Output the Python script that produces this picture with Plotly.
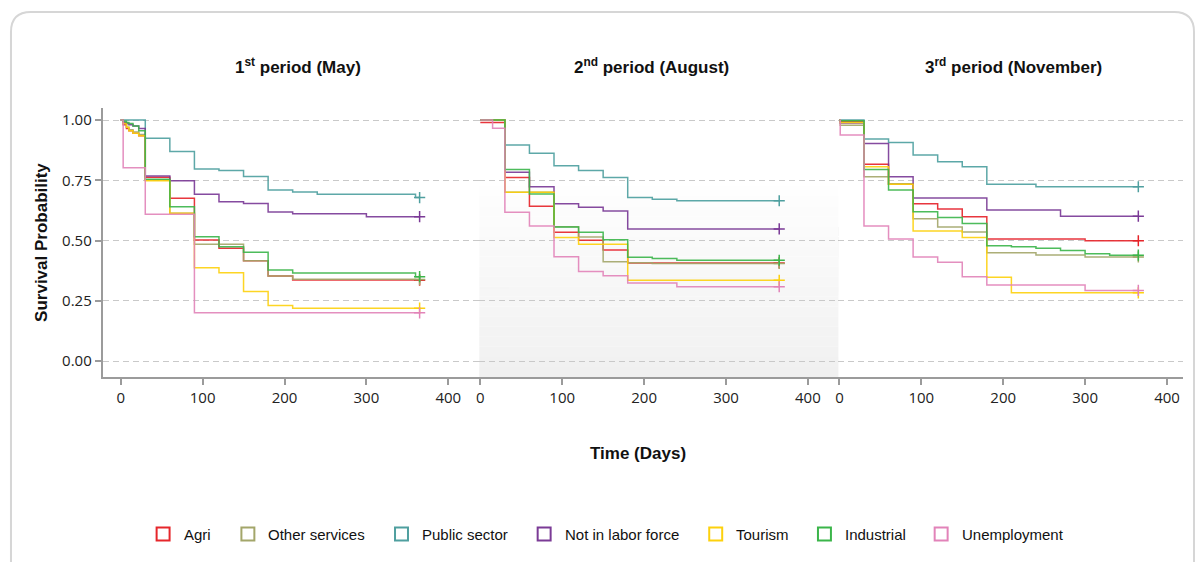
import plotly.graph_objects as go

W, H = 1202, 562

CATEGORIES = ["Agri", "Other services", "Public sector", "Not in labor force",
              "Tourism", "Industrial", "Unemployment"]
COLORS = ["#e6262b", "#a3a66a", "#4f9f9f", "#7b3b96", "#fdd10d", "#3bb54a", "#e283b9"]
PERIOD_TITLES = ["1<sup>st</sup> period (May)", "2<sup>nd</sup> period (August)",
                 "3<sup>rd</sup> period (November)"]
X_TICKS = [0, 100, 200, 300, 400]
Y_TICKS = [0, 0.25, 0.5, 0.75, 1.0]

# ---- 1st period (May) ----
MAY_DAYS = [0, 3, 7, 10, 15, 22, 30, 60, 90, 120, 150, 180, 210, 240, 270, 300, 330, 360, 365]
MAY_AGRI = [1, .980, .965, .955, .945, .935, .762, .675, .502, .468, .416, .353, .336, .336, .336, .336, .336, .335, .335]
MAY_OTHER = [1, .985, .970, .960, .950, .940, .751, .613, .484, .484, .416, .353, .339, .339, .339, .339, .339, .338, .338]
MAY_PUBLIC = [1, 1, 1, 1, 1, 1, .924, .869, .797, .790, .766, .710, .701, .692, .692, .692, .692, .678, .678]
MAY_NILF = [1, .990, .985, .980, .975, .965, .768, .748, .692, .661, .654, .618, .611, .611, .611, .599, .599, .599, .599]
MAY_TOUR = [1, .985, .970, .955, .945, .935, .748, .613, .387, .366, .288, .230, .219, .219, .219, .219, .219, .219, .219]
MAY_IND = [1, .995, .990, .985, .975, .955, .754, .640, .516, .474, .451, .378, .365, .365, .365, .365, .365, .350, .350]
MAY_UNEMP = [1, .802, .802, .802, .802, .802, .609, .609, .200, .200, .200, .200, .200, .200, .200, .200, .200, .200, .200]

# ---- 2nd period (August) ----
AUG_DAYS = [0, 15, 30, 60, 90, 120, 150, 180, 210, 240, 365]
AUG_AGRI = [.99, .99, .761, .642, .534, .501, .461, .407, .407, .407, .407]
AUG_OTHER = [1, 1, .700, .700, .557, .515, .412, .408, .405, .405, .405]
AUG_PUBLIC = [1, 1, .896, .862, .810, .790, .761, .678, .671, .665, .665]
AUG_NILF = [1, 1, .783, .723, .653, .638, .622, .548, .548, .548, .548]
AUG_TOUR = [1, 1, .700, .700, .512, .484, .484, .335, .335, .335, .335]
AUG_IND = [1, 1, .795, .693, .556, .534, .503, .430, .425, .418, .418]
AUG_UNEMP = [1, .966, .617, .560, .433, .371, .354, .324, .324, .308, .308]

# ---- 3rd period (November) ----
NOV_DAYS = [0, 1, 30, 60, 90, 120, 150, 180, 210, 240, 270, 300, 330, 365]
NOV_AGRI = [1, .995, .816, .733, .653, .631, .599, .506, .506, .506, .506, .499, .499, .499]
NOV_OTHER = [1, .978, .765, .735, .590, .556, .535, .449, .449, .440, .440, .432, .432, .432]
NOV_PUBLIC = [1, 1, .921, .907, .855, .827, .806, .733, .733, .723, .723, .723, .723, .723]
NOV_NILF = [1, .988, .903, .765, .676, .676, .676, .627, .627, .627, .601, .601, .601, .601]
NOV_TOUR = [1, .990, .806, .733, .539, .539, .512, .347, .283, .283, .283, .283, .283, .283]
NOV_IND = [1, .997, .795, .710, .619, .595, .571, .478, .474, .468, .459, .445, .439, .439]
NOV_UNEMP = [1, .938, .560, .506, .432, .410, .350, .315, .315, .315, .315, .293, .293, .293]

PANELS = [
    ("x", MAY_DAYS, [MAY_AGRI, MAY_OTHER, MAY_PUBLIC, MAY_NILF, MAY_TOUR, MAY_IND, MAY_UNEMP]),
    ("x2", AUG_DAYS, [AUG_AGRI, AUG_OTHER, AUG_PUBLIC, AUG_NILF, AUG_TOUR, AUG_IND, AUG_UNEMP]),
    ("x3", NOV_DAYS, [NOV_AGRI, NOV_OTHER, NOV_PUBLIC, NOV_NILF, NOV_TOUR, NOV_IND, NOV_UNEMP]),
]


def px(x):
    return x / W


def py(y):
    return 1 - y / H


fig = go.Figure()
for xa, days, series in PANELS:
    for name, color, surv in zip(CATEGORIES, COLORS, series):
        fig.add_trace(go.Scatter(
            x=days, y=surv, mode="lines", name=name, xaxis=xa, yaxis="y",
            line=dict(shape="hv", color=color, width=1.5), opacity=0.9,
            showlegend=False, hoverinfo="skip"))
        fig.add_trace(go.Scatter(
            x=[days[-1]], y=[surv[-1]], mode="markers", name=name, xaxis=xa, yaxis="y",
            marker=dict(symbol="cross-thin-open", size=8, color=color,
                        line=dict(color=color, width=1.5)),
            showlegend=False, hoverinfo="skip"))

# layout geometry (pixels)
Y_TOP, Y_BOT = 108, 377
Y0_PX, Y1_PX = 361, 120
PPU = (Y0_PX - Y1_PX)
y_range = [-(Y_BOT - Y0_PX) / PPU, 1 + (Y1_PX - Y_TOP) / PPU]
PXD = 0.821  # pixels per day
panel_px = [(100, 477.5, 118), (477.5, 837.5, 478.5), (837.5, 1183, 838.5)]

axis_common = dict(
    showline=True, linecolor="#9b9b9b", linewidth=2, showgrid=False, zeroline=False,
    ticks="outside", ticklen=6, tickwidth=2, tickcolor="#9b9b9b",
    tickvals=X_TICKS, ticktext=[str(v) for v in X_TICKS],
    tickfont=dict(family="Open Sans", size=15, color="#222222"),
    anchor="y", fixedrange=True,
)
layout_axes = {}
for i, (l, r, zero) in enumerate(panel_px):
    key = "xaxis" if i == 0 else f"xaxis{i+1}"
    layout_axes[key] = dict(axis_common, domain=[px(l), px(r)],
                            range=[(l - zero) / PXD, (r - zero) / PXD])

shapes = []
# subtle vertical gradient behind the middle panel (opaque, non-overlapping bands)
N = 20
G_TOP = 176
for k in range(N):
    y_a = G_TOP + k * (Y_BOT - G_TOP) / N
    y_b = G_TOP + (k + 1) * (Y_BOT - G_TOP) / N
    lvl = round(255 - 15 * (k + 0.5) / N)
    shapes.append(dict(type="rect", xref="paper", yref="paper", layer="below",
                       x0=px(477.5), x1=px(837.5), y0=py(y_b), y1=py(y_a),
                       line=dict(width=0), fillcolor=f"rgb({lvl},{lvl},{lvl})"))

# card border with rounded top corners
L, R, T, B, RAD = 8, 1194, 12, 575, 20
path = (f"M {px(L)},{py(B)} L {px(L)},{py(T+RAD)} Q {px(L)},{py(T)} {px(L+RAD)},{py(T)} "
        f"L {px(R-RAD)},{py(T)} Q {px(R)},{py(T)} {px(R)},{py(T+RAD)} L {px(R)},{py(B)}")
shapes.append(dict(type="path", xref="paper", yref="paper", path=path,
                   line=dict(color="#d6d6d6", width=2), layer="below"))

annotations = []
title_centers = [296, 650, 1013]
for t, cx in zip(PERIOD_TITLES, title_centers):
    annotations.append(dict(text=t, x=px(cx), y=py(66), xref="paper", yref="paper",
                            xanchor="center", yanchor="middle", showarrow=False,
                            font=dict(family="Liberation Sans", size=17, color="#111111",
                                      weight="bold")))
annotations.append(dict(text="Survival Probability", x=px(38), y=py(242), xref="paper",
                        yref="paper", textangle=-90, xanchor="center", yanchor="middle",
                        showarrow=False,
                        font=dict(family="Liberation Sans", size=17, color="#111111",
                                  weight="bold")))
annotations.append(dict(text="Time (Days)", x=px(637), y=py(453), xref="paper", yref="paper",
                        xanchor="center", yanchor="middle", showarrow=False,
                        font=dict(family="Liberation Sans", size=17, color="#111111",
                                  weight="bold")))

# manual legend
LEG_TEXT_X = [179, 264, 418, 561, 733, 842, 959]
LEG_Y = 534
for name, color, tx in zip(CATEGORIES, COLORS, LEG_TEXT_X):
    shapes.append(dict(type="rect", xref="paper", yref="paper",
                       x0=px(tx - 25), x1=px(tx - 12), y0=py(LEG_Y + 6.5), y1=py(LEG_Y - 6.5),
                       line=dict(color=color, width=2), fillcolor="rgba(0,0,0,0)"))
    annotations.append(dict(text=name, x=px(tx), y=py(LEG_Y), xref="paper", yref="paper",
                            xanchor="left", yanchor="middle", showarrow=False,
                            font=dict(family="Liberation Sans", size=15, color="#111111")))

fig.update_layout(
    width=W, height=H, autosize=False,
    margin=dict(l=0, r=0, t=0, b=0, pad=0),
    paper_bgcolor="white", plot_bgcolor="rgba(0,0,0,0)",
    showlegend=False,
    yaxis=dict(domain=[py(Y_BOT), py(Y_TOP)], range=y_range, anchor="x",
               showline=True, linecolor="#9b9b9b", linewidth=2, zeroline=False,
               ticks="outside", ticklen=6, tickwidth=2, tickcolor="#9b9b9b",
               tickvals=Y_TICKS, ticktext=[f"{v:.2f}" for v in Y_TICKS],
               tickfont=dict(family="Open Sans", size=15, color="#222222"),
               showgrid=True, gridcolor="#c9c9c9", gridwidth=1, griddash="6px,4px",
               fixedrange=True),
    shapes=shapes, annotations=annotations,
    **layout_axes,
)

fig.write_html("out.html", config={"displayModeBar": False})
